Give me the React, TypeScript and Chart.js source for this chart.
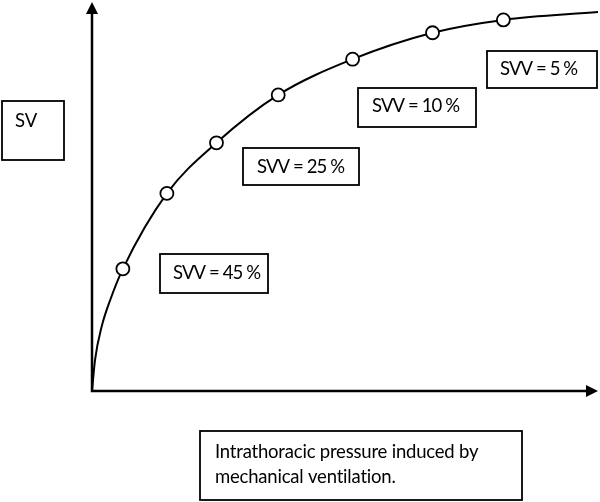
import React, { useEffect, useRef } from 'react';
import { Chart, registerables } from 'chart.js';

Chart.register(...registerables);

// Marker points on the curve (x: pressure, y: SV, arbitrary units 0-100)
const markerX = [6.1, 14.8, 24.6, 36.8, 51.5, 67.3, 81.3];
const markerY = [31.4, 50.8, 63.8, 76.1, 85.3, 92.1, 95.4];
// Curve samples (origin, steep start, markers, plateau end)
const curveX = [0, 0.6, 1.9, 3.6, 6.1, 14.8, 24.6, 36.8, 51.5, 67.3, 81.3, 100];
const curveY = [0, 8.0, 16.5, 23.4, 31.4, 50.8, 63.8, 76.1, 85.3, 92.1, 95.4, 97.4];

const svvLabels = ['SVV = 45 %', 'SVV = 25 %', 'SVV = 10 %', 'SVV = 5 %'];
const yAxisLabel = 'SV';
const xAxisLabel = ['Intrathoracic pressure induced by', 'mechanical ventilation.'];

// Layout of annotation boxes (pixels): [left, top, right, bottom, textX, baseline]
const svvBoxes = [
  [160, 254, 268, 293, 173, 279],
  [243, 148, 359, 185, 257, 173],
  [358, 88, 476, 127, 372, 112],
  [487, 51, 597, 88, 500, 75],
];
const svBox = [2, 101, 64, 160, 15, 127];
const xBox = [200, 431, 522, 500, 215, 458];

const FONT = '18.5px Lato, "Open Sans", sans-serif';

const overlay = {
  id: 'overlay',
  beforeDraw(chart: any) {
    const ctx = chart.ctx;
    ctx.save();
    ctx.fillStyle = '#fff';
    ctx.fillRect(0, 0, chart.width, chart.height);
    ctx.restore();
  },
  afterDraw(chart: any) {
    const ctx = chart.ctx;
    const { left, right, top, bottom } = chart.chartArea;
    ctx.save();
    ctx.strokeStyle = '#000';
    ctx.fillStyle = '#000';
    // axes
    ctx.lineWidth = 2.5;
    ctx.beginPath();
    ctx.moveTo(left, top + 10);
    ctx.lineTo(left, bottom);
    ctx.lineTo(right - 10, bottom);
    ctx.stroke();
    // arrows
    ctx.beginPath();
    ctx.moveTo(left, top);
    ctx.lineTo(left - 6, top + 12);
    ctx.lineTo(left + 6, top + 12);
    ctx.closePath();
    ctx.fill();
    ctx.beginPath();
    ctx.moveTo(right, bottom);
    ctx.lineTo(right - 12, bottom - 6);
    ctx.lineTo(right - 12, bottom + 6);
    ctx.closePath();
    ctx.fill();

    const drawBox = (b: number[], lines: string[], spacing: string) => {
      ctx.lineWidth = 1.8;
      ctx.strokeRect(b[0], b[1], b[2] - b[0], b[3] - b[1]);
      ctx.font = FONT;
      ctx.letterSpacing = spacing;
      ctx.textAlign = 'left';
      ctx.textBaseline = 'alphabetic';
      lines.forEach((t, i) => ctx.fillText(t, b[4], b[5] + i * 25));
    };
    svvLabels.forEach((t, i) => drawBox(svvBoxes[i], [t], '-0.9px'));
    drawBox(svBox, [yAxisLabel], '0px');
    drawBox(xBox, xAxisLabel, '-0.2px');
    ctx.restore();
  },
};

export default function App() {
  const ref = useRef<HTMLCanvasElement>(null);
  useEffect(() => {
    document.body.style.margin = '0';
    const chart = new Chart(ref.current!, {
      type: 'line',
      data: {
        datasets: [
          {
            data: markerX.map((x, i) => ({ x, y: markerY[i] })),
            showLine: false,
            pointRadius: 6.5,
            pointBackgroundColor: '#fff',
            pointBorderColor: '#000',
            pointBorderWidth: 1.8,
            clip: false,
          },
          {
            data: curveX.map((x, i) => ({ x, y: curveY[i] })),
            borderColor: '#000',
            borderWidth: 2,
            pointRadius: 0,
            cubicInterpolationMode: 'monotone',
            fill: false,
            clip: false,
          },
        ],
      },
      options: {
        responsive: false,
        animation: false,
        layout: { autoPadding: false, padding: { left: 92, right: 2, top: 2, bottom: 111 } },
        plugins: { legend: { display: false }, tooltip: { enabled: false } },
        scales: {
          x: { type: 'linear', min: 0, max: 100, display: false },
          y: { type: 'linear', min: 0, max: 100, display: false },
        },
      },
      plugins: [overlay],
    });
    return () => chart.destroy();
  }, []);
  return <canvas ref={ref} width={600} height={502} style={{ display: 'block' }} />;
}
